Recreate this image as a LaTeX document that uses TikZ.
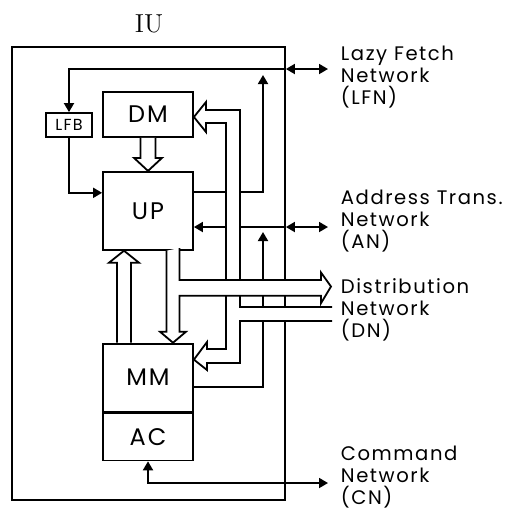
\documentclass[tikz,border=0pt]{standalone}
\usepackage{fontspec}
\newfontfamily\avant{Poppins}[LetterSpace=8.0]
\usetikzlibrary{positioning,arrows.meta}

\begin{document}
\begin{tikzpicture}[x=0.5pt, y=-0.5pt, line width=0.9pt, >={Triangle[length=4.5pt,width=5pt]},
  every node/.style={font=\avant\fontsize{9.8}{11}\selectfont},
  unit/.style={rectangle, draw, minimum width=45pt, inner sep=0pt, font=\avant\fontsize{12}{14}\selectfont},
  net/.style={anchor=west, align=left, inner sep=0pt},
  bus/.style={draw, fill=white}]
  \useasboundingbox (0,0) rectangle (513,511);
  \node[draw, minimum width=136.5pt, minimum height=226.5pt] (iu) at (148.5,273.5) {};
  \node[font=\rmfamily\fontsize{13}{15}\selectfont] (iulabel) at (149,24) {IU};
  \node[unit, minimum height=22.5pt] (dm) at (148,114.5) {DM};
  \node[unit, minimum height=39pt, below=16.5pt of dm] (up) {UP};
  \node[unit, minimum height=34pt, below=46pt of up] (mm) {MM};
  \node[unit, minimum height=23.5pt, below=0pt of mm] (ac) {AC};
  \node[draw, minimum width=23pt, minimum height=12pt, inner sep=0pt, font=\avant\fontsize{8}{9}\selectfont] (lfb) at (69,125) {LFB};
  \coordinate (lfn) at (328,69);
  \coordinate (an) at (328,227);
  \coordinate (cn) at (328,483);
  \coordinate (dn) at (331,286.5);
  \coordinate (dnin) at (332,314);
  \coordinate (lfntap) at (263,69);
  \coordinate (antap) at (263,227);
  \node[net] (lfnlabel) at (340,77) {Lazy Fetch\\Network\\(LFN)};
  \node[net] (anlabel) at (340,221) {Address Trans.\\Network\\(AN)};
  \node[net] (dnlabel) at (340,310) {Distribution\\Network\\(DN)};
  \node[net] (cnlabel) at (340,477) {Command\\Network\\(CN)};
  \draw[->] (iu.east |- lfn) -| (lfb.north);
  \draw[<->] (iu.east |- lfn) -- (lfn);
  \draw[->] (lfb.south) |- ([yshift=9pt]up.west);
  \draw[->] ([yshift=9.5pt]up.east) -| ([yshift=-3pt]lfntap);
  \draw[->] (iu.east |- an) -- (up.east |- an);
  \draw[<->] (iu.east |- an) -- (an);
  \draw[->] ([yshift=-4.5pt]mm.east) -| ([yshift=-2.5pt]antap);
  \draw[<->] (ac.south) |- (cn);
  \filldraw[bus] ([yshift=3.5pt]dnin) -- (240,307) -- (240,110) -- (206,110) -- (206,102) -- ([yshift=-1.25pt]dm.east) -- (206,132) -- (206,123) -- (226,123) -- (226,349) -- (207,349) -- (207,342) -- ([yshift=9pt]mm.east) -- (207,370) -- (207,363) -- (240,363) -- (240,321) -- ([yshift=-3.5pt]dnin);
  \filldraw[bus] ([xshift=9.25pt]up.south) -- ++(0,81) -- ++(-6.5,0) -- ([xshift=12.5pt]mm.north) -- ++(13,-11) -- ++(-6.5,0) -- ++(0,-36) -- ++(141.5,0) -- ++(0,7.5) -- (dn) -- ++(-10,-14) -- ++(0,7.5) -- ++(-141.5,0) -- ++(0,-32);
  \filldraw[bus] ([xshift=-15.5pt]mm.north) -- ++(0,-80) -- ++(-8,0) -- ([xshift=-12pt]up.south) -- ++(15,12) -- ++(-8,0) -- ++(0,80);
  \filldraw[bus] ([xshift=-3.75pt]dm.south) -- ++(0,20) -- ++(-6.5,0) -- (up.north) -- ++(14,-13) -- ++(-6.5,0) -- ++(0,-20);
\end{tikzpicture}
\end{document}
